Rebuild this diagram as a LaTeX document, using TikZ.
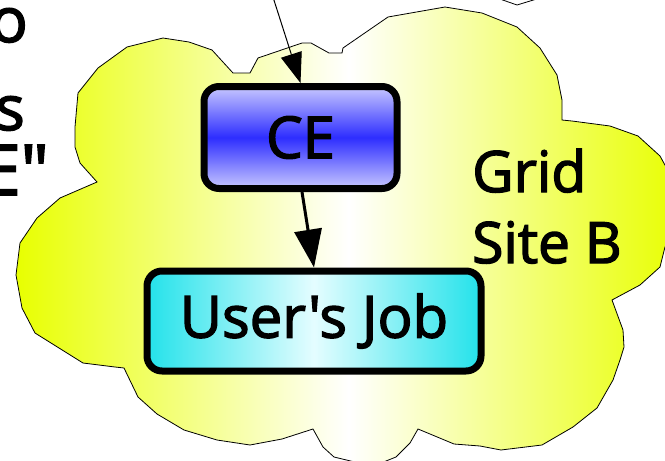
\documentclass[tikz,border=0pt]{standalone}
\usepackage{fontspec}
\newfontfamily\handfont[FakeBold=2.4]{Open Sans}
\usepackage{tikz}
\usetikzlibrary{arrows.meta}

\definecolor{cloudyel}{RGB}{232,255,0}
\definecolor{ceblue}{RGB}{45,45,255}
\definecolor{celight}{RGB}{200,200,255}
\definecolor{jobcyan}{RGB}{35,226,234}
\definecolor{jobpale}{RGB}{228,253,255}

\begin{document}
\begin{tikzpicture}[x=1pt,y=-1pt,>=Stealth,
  box/.style={draw,line width=7pt,rounded corners=15pt,inner sep=0pt,
    font=\handfont\fontsize{58}{58}\selectfont},
  cloud/.style={draw,line width=0.8pt,left color=cloudyel,right color=cloudyel,middle color=white},
  flow/.style={-{Triangle[length=#1,width=0.72*#1]}}]
  \useasboundingbox (0,0) rectangle (665,461);
  \clip (0,0) rectangle (665,461);
  % site cloud
  \draw[cloud] (78,93) -- (98,68) -- (127,47) -- (163,38) -- (189,42) -- (212,50) -- (233,73)
    -- (250,73) -- (258,58) -- (302,43) -- (311,43) -- (329,53) -- (342,53) -- (343,48)
    -- (388,17) -- (445,7) -- (482,13) -- (517,27) -- (540,48) -- (557,75) -- (562,100)
    -- (562,120) -- (572,121) -- (610,126) -- (638,136) -- (660,156) -- (676,185)
    -- (681,207) -- (676,230) -- (665,247) -- (660,267) -- (640,285) -- (612,300)
    -- (623,330) -- (624,347) -- (620,360) -- (613,380) -- (597,408) -- (573,427)
    -- (542,445) -- (501,450) -- (480,446) -- (454,444) -- (418,429) -- (410,443)
    -- (396,457) -- (381,463) -- (363,464) -- (334,457) -- (323,447) -- (313,429)
    -- (282,439) -- (250,445) -- (217,440) -- (184,430) -- (157,414) -- (138,397)
    -- (124,368) -- (115,367) -- (83,363) -- (35,333) -- (22,308) -- (16,275)
    -- (20,243) -- (37,218) -- (60,198) -- (97,182) -- (80,163) -- (75,147)
    -- (75,127) -- cycle;
  \draw[line width=0.8pt] (497,-2) -- (517,5) -- (540,-2);

  \node[box,top color=celight,bottom color=celight,middle color=ceblue,
    minimum width=193pt,minimum height=102pt,font=\handfont\fontsize{58}{58}\selectfont]
    (ce) at (300.5,137.5) {CE};
  \node[box,left color=jobcyan,right color=jobcyan,middle color=jobpale,
    minimum width=334pt,minimum height=100pt] (job) at (314,321) {User's Job};
  \node[anchor=base west,align=left,inner sep=0pt,
    font=\handfont\fontsize{57}{71}\selectfont] (site) at (472,263) {Grid\\Site B};

  \node[anchor=base east,inner sep=0pt,font=\handfont\fontsize{62}{62}\selectfont] (frago) at (28,42) {o};
  \node[anchor=base east,inner sep=0pt,font=\handfont\fontsize{62}{62}\selectfont] (frags) at (25,130) {s};
  \node[anchor=base east,inner sep=0pt,font=\handfont\fontsize{70}{70}\selectfont] (frage) at (49,195) {E"};

  \coordinate (src) at (272,-6);
  \draw[flow=30pt,line width=1pt] (src) -- (ce.north);
  \draw[flow=38pt,line width=3pt] ([xshift=1.5pt]ce.south) -- (job.north);
\end{tikzpicture}
\end{document}
